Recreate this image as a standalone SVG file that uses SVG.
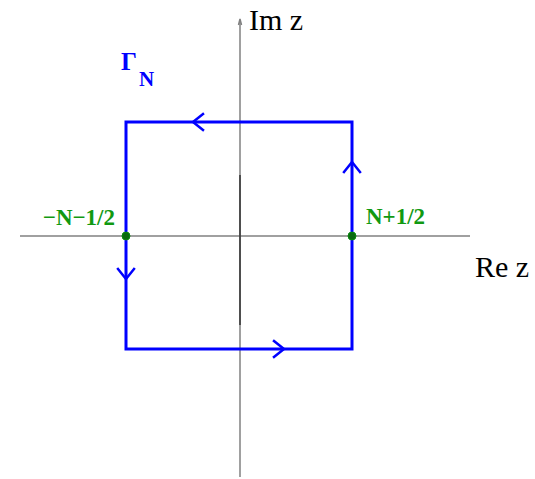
<svg xmlns="http://www.w3.org/2000/svg" width="535" height="479" viewBox="0 0 535 479">
<style>
.axis{stroke:#808080;stroke-width:1.5;fill:none}
.dark{stroke:#333;stroke-width:1.5;fill:none}
.contour{stroke:#0000ff;stroke-width:3;fill:none}
.arr{stroke:#0000ff;stroke-width:2.5;fill:none;stroke-linecap:square}
.pt{fill:#0a6a10;stroke:#0a8a10;stroke-width:1}
.glab{font-family:"Liberation Serif",serif;font-weight:bold;font-size:23px;fill:#119911}
.alab{font-family:"Liberation Serif",serif;font-size:30px;fill:#000}
</style>
<g id="connectors">
<line class="axis" x1="20" y1="236" x2="470" y2="236"/>
<line class="axis" x1="240" y1="477" x2="240" y2="20"/>
<path d="M238.5 25 L240 19 L241.5 25" class="axis" stroke-width="1"/>
<line class="dark" x1="240" y1="175" x2="240" y2="325"/>
</g>
<g id="contour">
<rect class="contour" x="126" y="122" width="226" height="227"/>
<path class="arr" d="M203 114 L193 122 L203 130"/>
<path class="arr" d="M344 172 L352 162 L360 172"/>
<path class="arr" d="M274 341 L284 349 L274 357"/>
<path class="arr" d="M118 269 L126 279 L134 269"/>
</g>
<g id="gamma">
<text x="121" y="70" font-family="Liberation Serif,serif" font-size="25" font-weight="bold" fill="#0000ff">Γ</text>
<text x="139" y="86" font-family="Liberation Serif,serif" font-size="21" font-weight="bold" fill="#0000ff">N</text>
</g>
<g id="p-left">
<circle class="pt" cx="126" cy="236" r="4"/>
<text class="glab" x="115" y="225" text-anchor="end">−N−1/2</text>
</g>
<g id="p-right">
<circle class="pt" cx="352" cy="236" r="4"/>
<text class="glab" x="366" y="224">N+1/2</text>
</g>
<g id="im-label"><text class="alab" x="249" y="30">Im z</text></g>
<g id="re-label"><text class="alab" x="475" y="277">Re z</text></g>
</svg>
